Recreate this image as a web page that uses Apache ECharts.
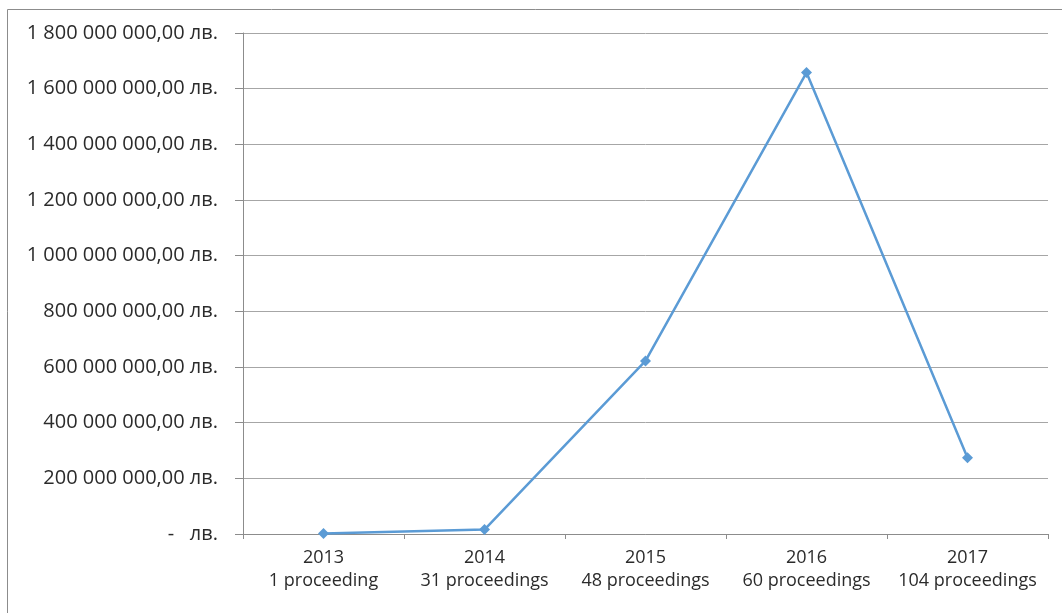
<!DOCTYPE html>
<html lang="bg">
<head>
	<meta charset="UTF-8">
	<title>Proceedings</title>
	<style type="text/css">
	html, body {
		margin: 0;
		padding: 0;
		background: #fff;
	}
	.chart {
		width: 1062px;
		height: 613px;
	}
</style>
</head>
<body>
	<div class="chart"></div>

	<script type="text/javascript" src="https://cdn.jsdelivr.net/npm/echarts@6/dist/echarts.min.js"></script>
	<script type="text/javascript">

		// data
		var years = ['2013', '2014', '2015', '2016', '2017'];
		var proceedings = ['1 proceeding', '31 proceedings', '48 proceedings', '60 proceedings', '104 proceedings'];
		var amounts = [2000000, 16000000, 622000000, 1658000000, 274000000];

		var chart = echarts.init(document.getElementsByClassName("chart")[0]);

		// x labels: year on the first line, count on the second
		function categories () {
			var arr = [];
			years.forEach(function (y, i) {
				arr[i] = y + '\n' + proceedings[i];
			});
			return arr;
		}

		// Excel accounting style: 1 800 000 000,00 лв.
		function money (v) {
			if (v === 0) return '-   лв.';
			var s = String(Math.round(v));
			s = s.replace(/\B(?=(\d{3})+(?!\d))/g, ' ');
			return s + ',00 лв.';
		}

		var font = '"Open Sans", "Liberation Sans", sans-serif';

		var option = {
			animation: false,
			textStyle: { fontFamily: font },
			graphic: [{
				type: 'rect',
				shape: { x: 7.5, y: 9.5, width: 1200, height: 800 },
				style: { fill: 'none', stroke: '#8c8c8c', lineWidth: 1 },
				silent: true
			}],
			grid: {
				left: 243,
				right: 14,
				top: 33,
				bottom: 79
			},
			xAxis: {
				type: 'category',
				data: categories(),
				boundaryGap: true,
				axisLine: { lineStyle: { color: '#8c8c8c', width: 1 } },
				axisTick: { show: true, length: 5, lineStyle: { color: '#8c8c8c' } },
				axisLabel: {
					color: '#2b2b2b',
					fontFamily: font,
					fontSize: 18,
					lineHeight: 23,
					margin: 12,
					interval: 0
				}
			},
			yAxis: {
				type: 'value',
				min: 0,
				max: 1800000000,
				interval: 200000000,
				axisLine: { show: true, lineStyle: { color: '#8c8c8c', width: 1 } },
				axisTick: { show: true, length: 8, lineStyle: { color: '#8c8c8c' } },
				splitLine: { lineStyle: { color: '#a6a6a6', width: 1 } },
				axisLabel: {
					color: '#2b2b2b',
					fontFamily: font,
					fontSize: 20,
					margin: 25,
					formatter: money
				}
			},
			series: [{
				type: 'line',
				data: amounts,
				symbol: 'diamond',
				symbolSize: 11,
				lineStyle: { color: '#5b9bd5', width: 2.5 },
				itemStyle: { color: '#5b9bd5' }
			}]
		};

		chart.setOption(option);

	</script>
</body>
</html>
